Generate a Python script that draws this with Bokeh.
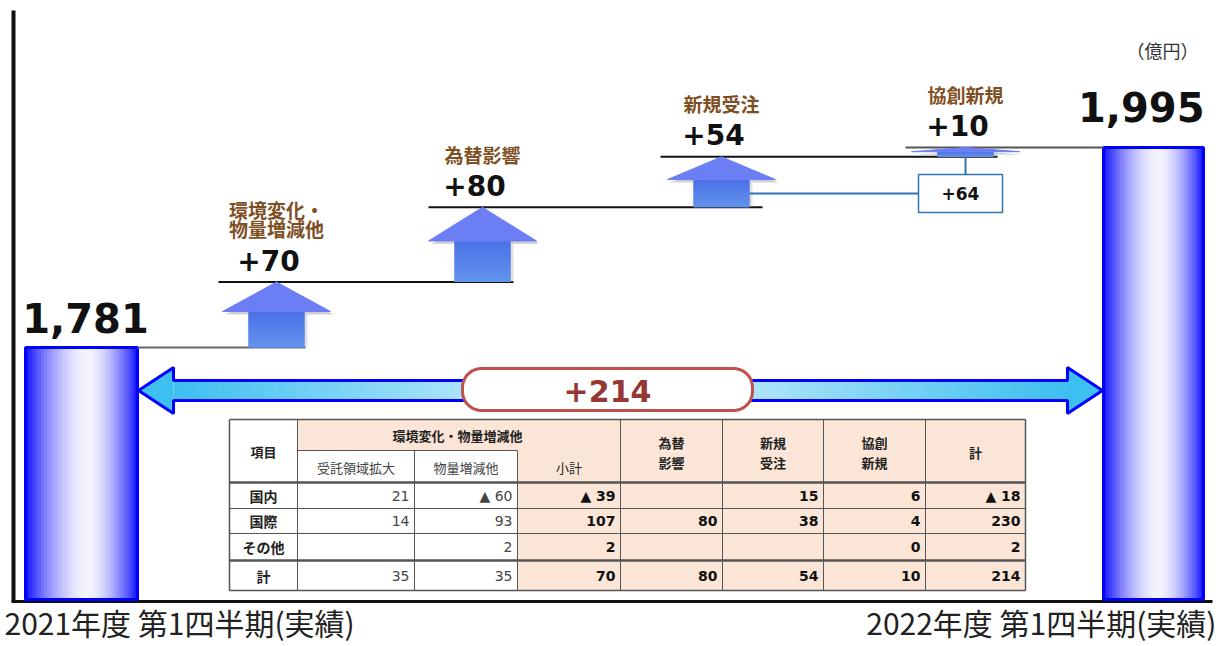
import math
from bokeh.plotting import figure
from bokeh.models import Range1d
from bokeh.embed import file_html
from bokeh.resources import INLINE
from bokeh.core.properties import value

# ---------------- data ----------------
period_labels = ["2021年度 第1四半期(実績)", "2022年度 第1四半期(実績)"]
endpoint_values = [1781, 1995]
step_names = ["環境変化・\n物量増減他", "為替影響", "新規受注", "協創新規"]
step_values = [70, 80, 54, 10]
unit_text = "（億円）"

table_item_header = "項目"
table_group_header = "環境変化・物量増減他"
table_col_headers = ["受託領域拡大", "物量増減他", "小計", "為替\n影響", "新規\n受注", "協創\n新規", "計"]
table_row_labels = ["国内", "国際", "その他", "計"]
col_itaku = [21, 14, None, 35]
col_butsuryo = [-60, 93, 2, 35]
col_shokei = [-39, 107, 2, 70]
col_kawase = [None, 80, None, 80]
col_shinki = [15, 38, None, 54]
col_kyoso = [6, 4, 0, 10]
col_total = [-18, 230, 2, 214]
table_columns = [col_itaku, col_butsuryo, col_shokei, col_kawase, col_shinki, col_kyoso, col_total]

# ---------------- layout / style ----------------
W, H = 1222, 646
PY_BOTTOM, PY_TOP = 646, 0
UPP = 1.07                      # value units per pixel
Y_START = 1461.07
Y_END = Y_START + H * UPP

CJK = value("Noto Sans CJK JP")
LAT = value("DejaVu Sans")
BROWN = "#7f4f24"


def v_at(py):
    return Y_START + (PY_BOTTOM - py) * UPP


def mix(c1, c2, t):
    t = max(0.0, min(1.0, t))
    return "#%02x%02x%02x" % tuple(int(round(a + (b - a) * t)) for a, b in zip(c1, c2))


p = figure(width=W, height=H, x_range=Range1d(0, W), y_range=Range1d(Y_START, Y_END),
           output_backend="svg", toolbar_location=None, min_border=0,
           x_axis_location=None, y_axis_location=None)
p.grid.visible = False
p.outline_line_color = None
p.background_fill_color = "white"
p.border_fill_color = "white"
p.extra_y_ranges = {"py": Range1d(PY_BOTTOM, PY_TOP)}

# ---------------- axes lines ----------------
p.segment(x0=[13], y0=[10], x1=[13], y1=[601], line_color="#111", line_width=4, y_range_name="py")
p.segment(x0=[11], y0=[601], x1=[1212], y1=[601], line_color="#111", line_width=3, y_range_name="py")

# ---------------- bars (gradient strips) ----------------
BASE = v_at(599)
bar_x = [(25, 137), (1103, 1203)]
dark = (16, 16, 255)
light = (244, 244, 255)
for (x0, x1), val in zip(bar_x, endpoint_values):
    n = 36
    lefts, rights, cols = [], [], []
    for i in range(n):
        t = (i + 0.5) / n
        d = (0.55 - t) / 0.55 if t < 0.55 else (t - 0.55) / 0.45
        lefts.append(x0 + (x1 - x0) * i / n)
        rights.append(x0 + (x1 - x0) * (i + 1) / n + 0.6)
        cols.append(mix(light, dark, d ** 1.7))
    p.quad(left=lefts, right=rights, bottom=BASE, top=val, fill_color=cols, line_color=None)
    p.quad(left=[x0], right=[x1], bottom=[BASE], top=[val], fill_color=None,
           line_color="#0000ff", line_width=3)

# ---------------- cumulative levels ----------------
levels = [endpoint_values[0]]
for s in step_values:
    levels.append(levels[-1] + s)

# ---------------- level lines ----------------
line_x = [(137, 305), (218, 513), (428, 762), (660, 997), (905, 1103)]
line_cols = ["#666666", "#111111", "#111111", "#111111", "#555555"]
p.segment(x0=[a for a, b in line_x], x1=[b for a, b in line_x], y0=levels, y1=levels,
          line_color=line_cols, line_width=2)

# ---------------- step arrows ----------------
arrow_cx = [276, 482, 721, 965]
HW, SW = 54, 28
for i, s in enumerate(step_values):
    cx = arrow_cx[i]
    base, top = levels[i], levels[i + 1]
    hh = min(36.0, 0.45 * s)
    neck = top - hh
    sh = 3 * UPP
    # shadow
    p.patch(x=[cx - HW + 3, cx + 3, cx + HW + 3], y=[neck - sh, top - sh, neck - sh],
            fill_color="#9a9a9a", fill_alpha=0.45, line_color=None)
    p.quad(left=[cx - SW + 3], right=[cx + SW + 3], bottom=[base], top=[neck - sh],
           fill_color="#9a9a9a", fill_alpha=0.3, line_color=None)
    # shaft with vertical gradient (solid base + strips)
    p.quad(left=[cx - SW], right=[cx + SW], bottom=[base], top=[neck],
           fill_color="#5a80e8", line_color=None)
    m = 8
    bots = [base + (neck - base) * k / m for k in range(m)]
    tops = [min(neck, base + (neck - base) * (k + 1) / m + 0.8) for k in range(m)]
    scol = [mix((98, 148, 236), (76, 112, 230), (k + 0.5) / m) for k in range(m)]
    p.quad(left=cx - SW, right=cx + SW, bottom=bots, top=tops, fill_color=scol, line_color=None)
    # head
    p.patch(x=[cx - HW, cx, cx + HW], y=[neck, top, neck],
            fill_color="#6c7ef4", line_color="#6c7ef4", line_width=1)

# ---------------- +64 connector box ----------------
combined = step_values[2] + step_values[3]
hh54 = min(36.0, 0.45 * step_values[2])
conn_y = levels[2] + (step_values[2] - hh54) / 2
box_half = 19 * UPP
p.segment(x0=[arrow_cx[2] + SW], x1=[918], y0=[conn_y], y1=[conn_y], line_color="#2e75b6", line_width=2)
p.segment(x0=[arrow_cx[3]], x1=[arrow_cx[3]], y0=[conn_y + box_half], y1=[levels[3]],
          line_color="#2e75b6", line_width=2)
p.quad(left=[918], right=[1002], bottom=[conn_y - box_half], top=[conn_y + box_half],
       fill_color="white", line_color="#2e75b6", line_width=1.5)
p.text(x=[960], y=[conn_y], text=[f"+{combined}"], text_font=LAT, text_font_style="bold",
       text_font_size="17px", text_align="center", text_baseline="middle", text_color="#111")

# ---------------- step labels ----------------
p.text(x=[c - 8 for c in arrow_cx], y=[lv + 22 * UPP for lv in levels[1:]],
       text=[f"+{s}" for s in step_values], text_font=LAT, text_font_style="bold",
       text_font_size="28px", text_align="center", text_baseline="middle", text_color="#111")
name_y = [lv + (53 + 10 * (nm.count("\n"))) * UPP for lv, nm in zip(levels[1:], step_names)]
p.text(x=arrow_cx, y=name_y, text=step_names,
       text_font=CJK, text_font_style="bold", text_font_size="19px", text_align="center",
       text_baseline="middle", text_color=BROWN, text_line_height=0.72)

# ---------------- endpoint labels ----------------
p.text(x=[85], y=[endpoint_values[0] + 30 * UPP], text=[f"{endpoint_values[0]:,}"],
       text_font=LAT, text_font_style="bold", text_font_size="40px",
       text_align="center", text_baseline="middle", text_color="#111")
p.text(x=[1204], y=[endpoint_values[1] + 41 * UPP], text=[f"{endpoint_values[1]:,}"],
       text_font=LAT, text_font_style="bold", text_font_size="40px",
       text_align="right", text_baseline="middle", text_color="#111")
p.text(x=[1162], y=[49], text=[unit_text], text_font=CJK, text_font_size="18px",
       text_align="center", text_baseline="middle", text_color="#333", y_range_name="py")

# ---------------- period labels ----------------
p.text(x=[4], y=[621], text=[period_labels[0]], text_font=CJK, text_font_size="30px",
       text_align="left", text_baseline="middle", text_color="#222", y_range_name="py")
p.text(x=[1216], y=[621], text=[period_labels[1]], text_font=CJK, text_font_size="30px",
       text_align="right", text_baseline="middle", text_color="#222", y_range_name="py")

# ---------------- total double arrow ----------------
TL, HL, HR, TR = 138, 173, 1067, 1102
CY, S0, S1, H0, H1 = 390, 380, 400, 367, 413
n = 80
cyan = (61, 191, 240)
pale = (236, 249, 254)
mid_x = 607
lefts, rights, cols = [], [], []
for i in range(n):
    a = HL + (HR - HL) * i / n
    b = HL + (HR - HL) * (i + 1) / n + 0.6
    xm = (a + b) / 2
    t = (mid_x - xm) / (mid_x - HL) if xm < mid_x else (xm - mid_x) / (HR - mid_x)
    lefts.append(a)
    rights.append(b)
    cols.append(mix(pale, cyan, t ** 0.9))
p.quad(left=lefts, right=rights, top=S0, bottom=S1, fill_color=cols, line_color=None, y_range_name="py")
p.patch(x=[TL, HL, HL], y=[CY, H0, H1], fill_color="#3dbff0", line_color=None, y_range_name="py")
p.patch(x=[TR, HR, HR], y=[CY, H0, H1], fill_color="#3dbff0", line_color=None, y_range_name="py")
p.patch(x=[TL, HL, HL, HR, HR, TR, HR, HR, HL, HL],
        y=[CY, H0, S0, S0, H0, CY, H1, S1, S1, H1],
        fill_color=None, line_color="#0000ff", line_width=3, y_range_name="py")


def rounded_rect(x0, x1, y0, y1, r, k=10):
    xs, ys = [], []
    corners = [(x1 - r, y0 + r, -90, 0), (x1 - r, y1 - r, 0, 90),
               (x0 + r, y1 - r, 90, 180), (x0 + r, y0 + r, 180, 270)]
    for cxr, cyr, a0, a1 in corners:
        for j in range(k + 1):
            a = math.radians(a0 + (a1 - a0) * j / k)
            xs.append(cxr + r * math.cos(a))
            ys.append(cyr + r * math.sin(a))
    return xs, ys


bx, by = rounded_rect(462, 752, 368, 410, 19)
p.patch(x=bx, y=by, fill_color="white", line_color="#c0504d", line_width=3, y_range_name="py")
total_change = endpoint_values[1] - endpoint_values[0]
p.text(x=[607], y=[390], text=[f"+{total_change}"], text_font=LAT, text_font_style="bold",
       text_font_size="30px", text_align="center", text_baseline="middle", text_color="#953735",
       y_range_name="py")

# ---------------- table ----------------
cx = [229, 297, 414, 517, 620, 722, 823, 925, 1025]
ry = [419, 450, 482, 508, 533, 560, 590]
PEACH = "#fbe5d6"
p.quad(left=[229], right=[1025], top=[419], bottom=[590], fill_color="white", line_color=None, y_range_name="py")
p.quad(left=[297, 517], right=[1025, 1025], top=[419, 450], bottom=[450, 590],
       fill_color=PEACH, line_color=None, y_range_name="py")
hx0 = [229, 297, 229, 229, 229, 229, 229]
hx1 = [1025, 517, 1025, 1025, 1025, 1025, 1025]
hy = [419, 450, 482, 508, 533, 560, 590]
hw = [1.5, 1, 2.5, 1, 1, 2.5, 1.5]
p.segment(x0=hx0, x1=hx1, y0=hy, y1=hy, line_color="#555", line_width=hw, y_range_name="py")
vx = [229, 297, 414, 517, 620, 722, 823, 925, 1025]
vy0 = [419, 419, 450, 450, 419, 419, 419, 419, 419]
p.segment(x0=vx, x1=vx, y0=vy0, y1=[590] * len(vx), line_color="#555",
          line_width=[1.5, 1, 1, 1, 1, 1, 1, 1, 1.5], y_range_name="py")

p.text(x=[263], y=[451], text=[table_item_header], text_font=CJK, text_font_style="bold",
       text_font_size="13px", text_align="center", text_baseline="middle", text_color="#222", y_range_name="py")
p.text(x=[457], y=[435], text=[table_group_header], text_font=CJK, text_font_style="bold",
       text_font_size="13px", text_align="center", text_baseline="middle", text_color="#222", y_range_name="py")
hdr_x = [(cx[j + 1] + cx[j + 2]) / 2 for j in range(len(table_col_headers))]
hdr_y = [467 if j < 3 else 452 for j in range(len(table_col_headers))]
hdr_style = ["normal" if j < 3 else "bold" for j in range(len(table_col_headers))]
hdr_col = ["#444", "#444", "#222", "#222", "#222", "#222", "#222"]
for j, h in enumerate(table_col_headers):
    p.text(x=[hdr_x[j]], y=[hdr_y[j]], text=[h], text_font=CJK, text_font_style=hdr_style[j],
           text_font_size="13px", text_align="center", text_baseline="middle",
           text_color=hdr_col[j], text_line_height=1.05, y_range_name="py")

row_y = [(ry[k] + ry[k + 1]) / 2 for k in range(2, 6)]
p.text(x=[263] * len(table_row_labels), y=row_y, text=table_row_labels, text_font=CJK,
       text_font_style="bold", text_font_size="14px", text_align="center", text_baseline="middle",
       text_color="#222", y_range_name="py")

for j, col in enumerate(table_columns):
    xs, ys, ts = [], [], []
    for i, v in enumerate(col):
        if v is None:
            continue
        xs.append(cx[j + 2] - 5)
        ys.append(row_y[i])
        ts.append(f"▲ {abs(v)}" if v < 0 else f"{v}")
    p.text(x=xs, y=ys, text=ts, text_font=LAT, text_font_style="normal" if j < 2 else "bold",
           text_font_size="14px", text_align="right", text_baseline="middle",
           text_color="#444" if j < 2 else "#111", y_range_name="py")

open("out.html", "w").write(file_html(p, INLINE))
